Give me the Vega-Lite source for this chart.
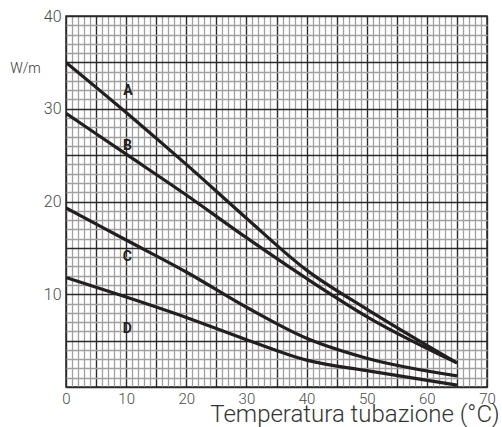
{
  "$schema": "https://vega.github.io/schema/vega-lite/v6.json",
  "width": 421,
  "height": 371,
  "autosize": "none",
  "padding": {"left": 66, "top": 16, "right": 15, "bottom": 40},
  "background": "white",
  "config": {
    "view": {"stroke": "#2a2a2a", "strokeWidth": 1.5},
    "font": "Roboto"
  },
  "datasets": {
    "curves": [
      {"serie": "A", "t": 0, "w": 35.0},
      {"serie": "A", "t": 10, "w": 29.6},
      {"serie": "A", "t": 20, "w": 24.0},
      {"serie": "A", "t": 30, "w": 18.2},
      {"serie": "A", "t": 40, "w": 12.6},
      {"serie": "A", "t": 50, "w": 8.4},
      {"serie": "A", "t": 65, "w": 2.6},
      {"serie": "B", "t": 0, "w": 29.5},
      {"serie": "B", "t": 10, "w": 25.1},
      {"serie": "B", "t": 20, "w": 20.7},
      {"serie": "B", "t": 30, "w": 16.1},
      {"serie": "B", "t": 40, "w": 11.7},
      {"serie": "B", "t": 50, "w": 7.6},
      {"serie": "B", "t": 65, "w": 2.6},
      {"serie": "C", "t": 0, "w": 19.3},
      {"serie": "C", "t": 10, "w": 15.85},
      {"serie": "C", "t": 20, "w": 12.4},
      {"serie": "C", "t": 30, "w": 8.6},
      {"serie": "C", "t": 40, "w": 5.25},
      {"serie": "C", "t": 50, "w": 3.1},
      {"serie": "C", "t": 65, "w": 1.2},
      {"serie": "D", "t": 0, "w": 11.8},
      {"serie": "D", "t": 10, "w": 9.7},
      {"serie": "D", "t": 20, "w": 7.5},
      {"serie": "D", "t": 30, "w": 5.1},
      {"serie": "D", "t": 40, "w": 2.9},
      {"serie": "D", "t": 50, "w": 1.76},
      {"serie": "D", "t": 65, "w": 0.2}
    ],
    "labels": [
      {"serie": "A", "t": 10.3, "w": 31.9},
      {"serie": "B", "t": 10.2, "w": 26.0},
      {"serie": "C", "t": 10.2, "w": 14.0},
      {"serie": "D", "t": 10.2, "w": 6.3}
    ]
  },
  "resolve": {"axis": {"x": "independent", "y": "independent"}},
  "layer": [
    {
      "data": {"name": "curves"},
      "mark": {"type": "line", "color": "#231f20", "strokeWidth": 3.2, "interpolate": "monotone", "clip": true},
      "encoding": {
        "x": {
          "field": "t", "type": "quantitative",
          "scale": {"domain": [0, 70], "nice": false, "zero": false},
          "axis": {
            "values": [0, 10, 20, 30, 40, 50, 60, 70],
            "grid": false, "ticks": false, "domain": false,
            "labelFontSize": 15, "labelColor": "#4a4a4a", "labelFont": "Roboto", "labelFontWeight": 300,
            "labelPadding": 4, "labelFlush": false,
            "title": "Temperatura tubazione (°C)",
            "titleFont": "Roboto", "titleFontSize": 24, "titleFontWeight": 300, "titleColor": "#333333",
            "titleAnchor": "end", "titleAlign": "right", "titleBaseline": "alphabetic",
            "titleX": 433, "titleY": 34
          }
        },
        "y": {
          "field": "w", "type": "quantitative",
          "scale": {"domain": [0, 40], "nice": false, "zero": true},
          "axis": {
            "values": [10, 20, 30, 40],
            "grid": false, "ticks": false, "domain": false,
            "labelFontSize": 16, "labelColor": "#4a4a4a", "labelFont": "Roboto", "labelFontWeight": 300,
            "labelPadding": 5, "labelFlush": false,
            "title": "W/m", "titleAngle": 0, "titleFont": "Roboto", "titleFontSize": 14,
            "titleFontWeight": 300, "titleColor": "#333333",
            "titleAlign": "center", "titleBaseline": "middle", "titleX": -41, "titleY": 52
          }
        },
        "detail": {"field": "serie", "type": "nominal"}
      }
    },
    {
      "data": {"name": "labels"},
      "mark": {"type": "text", "fontWeight": "bold", "fontSize": 14, "color": "#231f20", "font": "Roboto", "align": "center", "baseline": "middle"},
      "encoding": {
        "x": {
          "field": "t", "type": "quantitative",
          "axis": {
            "values": [1,2,3,4,6,7,8,9,11,12,13,14,16,17,18,19,21,22,23,24,26,27,28,29,31,32,33,34,36,37,38,39,41,42,43,44,46,47,48,49,51,52,53,54,56,57,58,59,61,62,63,64,66,67,68,69],
            "grid": true, "gridColor": "#a0a0a0", "gridWidth": 1.3,
            "labels": false, "ticks": false, "domain": false, "title": null
          }
        },
        "y": {
          "field": "w", "type": "quantitative",
          "axis": {
            "values": [1,2,3,4,6,7,8,9,11,12,13,14,16,17,18,19,21,22,23,24,26,27,28,29,31,32,33,34,36,37,38,39],
            "grid": true, "gridColor": "#a0a0a0", "gridWidth": 1.3,
            "labels": false, "ticks": false, "domain": false, "title": null
          }
        },
        "text": {"field": "serie", "type": "nominal"}
      }
    },
    {
      "data": {"name": "labels"},
      "mark": {"type": "point", "opacity": 0},
      "encoding": {
        "x": {
          "field": "t", "type": "quantitative",
          "axis": {
            "values": [0,5,10,15,20,25,30,35,40,45,50,55,60,65,70],
            "grid": true, "gridColor": "#2a2a2a", "gridWidth": 1.4,
            "labels": false, "ticks": false, "domain": false, "title": null
          }
        },
        "y": {
          "field": "w", "type": "quantitative",
          "axis": {
            "values": [0,5,10,15,20,25,30,35,40],
            "grid": true, "gridColor": "#2a2a2a", "gridWidth": 1.4,
            "labels": false, "ticks": false, "domain": false, "title": null
          }
        }
      }
    }
  ]
}
